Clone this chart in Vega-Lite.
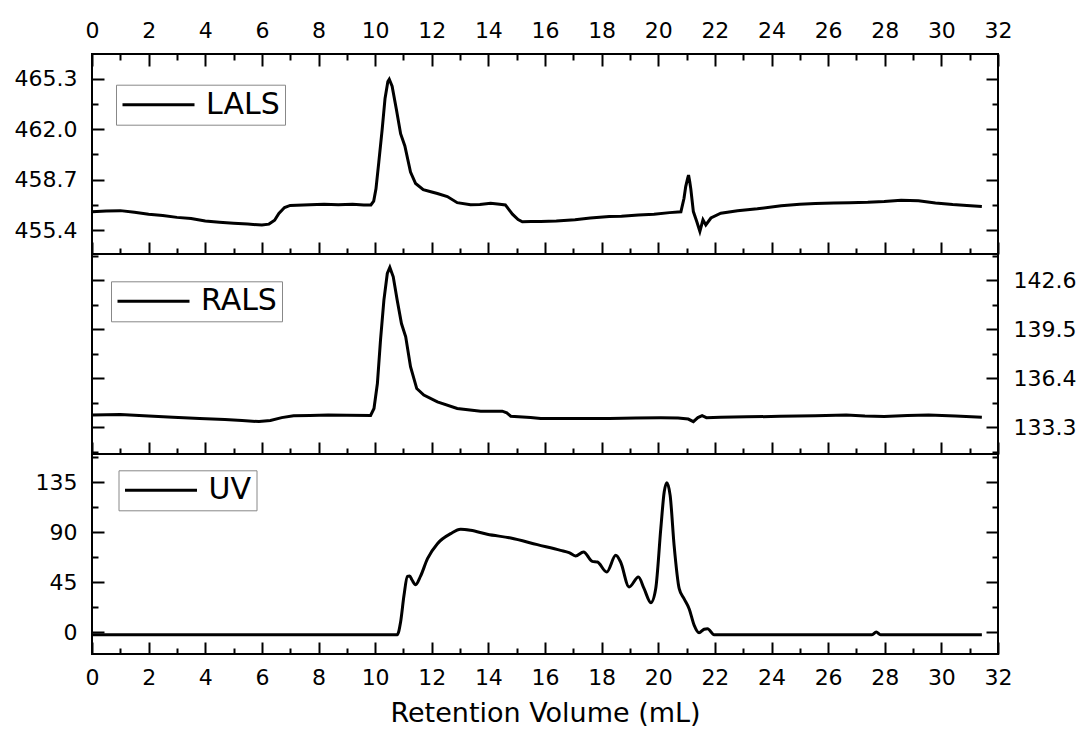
{
  "$schema": "https://vega.github.io/schema/vega-lite/v6.json",
  "padding": {"top": 18, "left": 13, "right": 0, "bottom": 0},
  "background": "white",
  "config": {
    "font": "DejaVu Sans",
    "view": {"stroke": "black", "strokeWidth": 2},
    "axis": {"domain": false, "grid": false, "tickColor": "black", "tickWidth": 2, "labelColor": "black", "labelFont": "DejaVu Sans", "labelFontSize": 22, "labelFlush": false, "labelOverlap": false, "titleColor": "black", "titleFont": "DejaVu Sans", "titleFontWeight": "normal"}
  },
  "datasets": {
    "lals": [
      {"x": 0.0, "v": 456.6}, {"x": 0.5, "v": 456.66}, {"x": 1.0, "v": 456.68}, {"x": 1.5, "v": 456.57}, {"x": 2.0, "v": 456.45},
      {"x": 2.5, "v": 456.36}, {"x": 3.0, "v": 456.24}, {"x": 3.5, "v": 456.17}, {"x": 4.0, "v": 456.0}, {"x": 4.5, "v": 455.92},
      {"x": 5.0, "v": 455.85}, {"x": 5.5, "v": 455.8}, {"x": 6.0, "v": 455.74}, {"x": 6.25, "v": 455.8}, {"x": 6.45, "v": 456.05},
      {"x": 6.6, "v": 456.5}, {"x": 6.8, "v": 456.88}, {"x": 7.0, "v": 457.02}, {"x": 7.7, "v": 457.06}, {"x": 8.2, "v": 457.1},
      {"x": 8.7, "v": 457.07}, {"x": 9.2, "v": 457.1}, {"x": 9.6, "v": 457.04}, {"x": 9.85, "v": 457.05}, {"x": 9.95, "v": 457.3},
      {"x": 10.03, "v": 458.1}, {"x": 10.13, "v": 459.85}, {"x": 10.25, "v": 462.0}, {"x": 10.35, "v": 464.0}, {"x": 10.45, "v": 465.1},
      {"x": 10.5, "v": 465.25}, {"x": 10.6, "v": 464.8}, {"x": 10.75, "v": 463.3}, {"x": 10.9, "v": 461.7}, {"x": 11.05, "v": 460.9},
      {"x": 11.25, "v": 459.2}, {"x": 11.43, "v": 458.45}, {"x": 11.7, "v": 458.05}, {"x": 12.0, "v": 457.9}, {"x": 12.2, "v": 457.8},
      {"x": 12.55, "v": 457.6}, {"x": 12.9, "v": 457.2}, {"x": 13.37, "v": 457.06}, {"x": 13.7, "v": 457.08}, {"x": 14.08, "v": 457.16},
      {"x": 14.4, "v": 457.1}, {"x": 14.6, "v": 457.05}, {"x": 14.85, "v": 456.45}, {"x": 15.05, "v": 456.1}, {"x": 15.2, "v": 455.95},
      {"x": 15.5, "v": 455.97}, {"x": 15.85, "v": 455.97}, {"x": 16.4, "v": 456.0}, {"x": 17.06, "v": 456.08}, {"x": 17.6, "v": 456.2},
      {"x": 18.27, "v": 456.3}, {"x": 18.7, "v": 456.32}, {"x": 19.3, "v": 456.4}, {"x": 19.85, "v": 456.45}, {"x": 20.4, "v": 456.55},
      {"x": 20.8, "v": 456.6}, {"x": 20.91, "v": 457.49}, {"x": 20.97, "v": 458.25}, {"x": 21.04, "v": 458.8}, {"x": 21.07, "v": 459.0},
      {"x": 21.11, "v": 458.6}, {"x": 21.15, "v": 458.1}, {"x": 21.24, "v": 456.62}, {"x": 21.36, "v": 455.97}, {"x": 21.47, "v": 455.32},
      {"x": 21.58, "v": 456.08}, {"x": 21.68, "v": 455.75}, {"x": 21.86, "v": 456.2}, {"x": 22.21, "v": 456.51}, {"x": 22.8, "v": 456.67},
      {"x": 23.5, "v": 456.8}, {"x": 24.34, "v": 457.0}, {"x": 25.0, "v": 457.1}, {"x": 25.55, "v": 457.14}, {"x": 26.2, "v": 457.17},
      {"x": 26.76, "v": 457.2}, {"x": 27.4, "v": 457.22}, {"x": 27.98, "v": 457.27}, {"x": 28.58, "v": 457.36}, {"x": 29.19, "v": 457.32},
      {"x": 29.79, "v": 457.18}, {"x": 30.4, "v": 457.08}, {"x": 30.9, "v": 457.02}, {"x": 31.43, "v": 456.95}
    ],
    "rals": [
      {"x": 0.0, "v": 134.06}, {"x": 1.0, "v": 134.1}, {"x": 2.0, "v": 134.0}, {"x": 2.86, "v": 133.92}, {"x": 3.8, "v": 133.85},
      {"x": 4.69, "v": 133.78}, {"x": 5.3, "v": 133.72}, {"x": 5.9, "v": 133.65}, {"x": 6.3, "v": 133.72}, {"x": 6.7, "v": 133.9},
      {"x": 7.12, "v": 134.02}, {"x": 7.7, "v": 134.04}, {"x": 8.34, "v": 134.06}, {"x": 9.0, "v": 134.05}, {"x": 9.84, "v": 134.04},
      {"x": 9.96, "v": 134.48}, {"x": 10.08, "v": 136.06}, {"x": 10.19, "v": 138.8}, {"x": 10.31, "v": 141.33}, {"x": 10.43, "v": 143.02},
      {"x": 10.52, "v": 143.4}, {"x": 10.64, "v": 142.81}, {"x": 10.78, "v": 141.33}, {"x": 10.93, "v": 139.85}, {"x": 11.08, "v": 139.01},
      {"x": 11.25, "v": 137.12}, {"x": 11.47, "v": 135.74}, {"x": 11.72, "v": 135.33}, {"x": 12.2, "v": 134.9}, {"x": 12.9, "v": 134.48},
      {"x": 13.73, "v": 134.31}, {"x": 14.49, "v": 134.31}, {"x": 14.65, "v": 134.2}, {"x": 14.79, "v": 133.99}, {"x": 15.49, "v": 133.91},
      {"x": 15.85, "v": 133.85}, {"x": 17.0, "v": 133.85}, {"x": 18.27, "v": 133.85}, {"x": 19.2, "v": 133.88}, {"x": 20.09, "v": 133.89},
      {"x": 20.7, "v": 133.88}, {"x": 21.06, "v": 133.81}, {"x": 21.24, "v": 133.65}, {"x": 21.4, "v": 133.9}, {"x": 21.55, "v": 134.02},
      {"x": 21.7, "v": 133.9}, {"x": 22.2, "v": 133.93}, {"x": 23.12, "v": 133.95}, {"x": 24.3, "v": 133.98}, {"x": 25.55, "v": 134.02},
      {"x": 26.64, "v": 134.06}, {"x": 27.3, "v": 134.0}, {"x": 27.98, "v": 133.97}, {"x": 28.8, "v": 134.03}, {"x": 29.55, "v": 134.06},
      {"x": 30.5, "v": 134.0}, {"x": 31.43, "v": 133.93}
    ],
    "uv": [
      {"x": 0.0, "v": -2.4}, {"x": 10.78, "v": -2.4}, {"x": 10.9, "v": 9}, {"x": 11.02, "v": 33}, {"x": 11.14, "v": 50},
      {"x": 11.22, "v": 50.5}, {"x": 11.3, "v": 47}, {"x": 11.43, "v": 42.6}, {"x": 11.6, "v": 50}, {"x": 11.85, "v": 66},
      {"x": 12.2, "v": 79.5}, {"x": 12.67, "v": 88.5}, {"x": 13.02, "v": 92.4}, {"x": 13.37, "v": 91.5}, {"x": 13.96, "v": 88},
      {"x": 14.79, "v": 84.6}, {"x": 15.73, "v": 78.6}, {"x": 16.55, "v": 73.5}, {"x": 16.85, "v": 71.4}, {"x": 17.08, "v": 68.5},
      {"x": 17.36, "v": 72}, {"x": 17.67, "v": 63.6}, {"x": 17.85, "v": 63}, {"x": 18.18, "v": 54}, {"x": 18.5, "v": 69},
      {"x": 18.67, "v": 63}, {"x": 18.97, "v": 40.5}, {"x": 19.3, "v": 49.5}, {"x": 19.5, "v": 39}, {"x": 19.74, "v": 26.4},
      {"x": 19.91, "v": 39}, {"x": 20.09, "v": 93}, {"x": 20.21, "v": 126}, {"x": 20.3, "v": 134.4}, {"x": 20.42, "v": 123},
      {"x": 20.56, "v": 78}, {"x": 20.74, "v": 39}, {"x": 20.91, "v": 30}, {"x": 21.09, "v": 21}, {"x": 21.27, "v": 6},
      {"x": 21.44, "v": -0.6}, {"x": 21.62, "v": 2.5}, {"x": 21.74, "v": 3}, {"x": 21.97, "v": -2.4}, {"x": 27.55, "v": -2.4},
      {"x": 27.7, "v": 0}, {"x": 27.85, "v": -2.4}, {"x": 31.43, "v": -2.4}
    ]
  },
  "spacing": 0,
  "bounds": "flush",
  "resolve": {"scale": {"x": "independent", "y": "independent", "color": "independent"}, "legend": {"color": "independent"}},
  "vconcat": [
    {
      "width": 906, "height": 200,
      "data": {"name": "lals"},
      "resolve": {"axis": {"x": "independent", "y": "independent"}},
      "layer": [
        {
          "mark": {"type": "line", "strokeWidth": 3},
          "encoding": {
            "x": {"field": "x", "type": "quantitative", "scale": {"domain": [0, 32], "nice": false, "zero": false},
                  "axis": {"orient": "top", "values": [0,2,4,6,8,10,12,14,16,18,20,22,24,26,28,30,32], "tickSize": -12, "labelPadding": 23.4, "title": null}},
            "y": {"field": "v", "type": "quantitative", "scale": {"domain": [453.85, 466.9], "nice": false, "zero": false},
                  "axis": {"orient": "left", "values": [455.4, 458.7, 462.0, 465.3], "format": ".1f", "tickSize": -12, "labelPadding": 27, "title": null}},
            "color": {"datum": "LALS", "scale": {"range": ["black"]},
                      "legend": {"title": null, "orient": "none", "legendX": 24, "legendY": 30.7, "padding": 5, "strokeColor": "#888888", "fillColor": "white", "symbolType": "stroke", "symbolSize": 5184, "symbolStrokeWidth": 3, "clipHeight": 30, "labelFont": "DejaVu Sans", "labelFontSize": 30, "labelColor": "black", "labelOffset": 10}}
          }
        },
        {
          "mark": {"type": "line", "opacity": 0},
          "encoding": {
            "x": {"field": "x", "type": "quantitative", "axis": {"orient": "top", "values": [1,3,5,7,9,11,13,15,17,19,21,23,25,27,29,31], "tickSize": -6, "labels": false, "title": null}},
            "y": {"field": "v", "type": "quantitative", "axis": {"orient": "left", "values": [457.05, 460.35, 463.65], "tickSize": -6, "labels": false, "title": null}}
          }
        },
        {
          "mark": {"type": "line", "opacity": 0},
          "encoding": {
            "x": {"field": "x", "type": "quantitative", "axis": {"orient": "bottom", "values": [0,2,4,6,8,10,12,14,16,18,20,22,24,26,28,30,32], "tickSize": -12, "labels": false, "title": null}},
            "y": {"field": "v", "type": "quantitative", "axis": {"orient": "right", "values": [455.4, 458.7, 462.0, 465.3], "tickSize": -12, "labels": false, "title": null}}
          }
        },
        {
          "mark": {"type": "line", "opacity": 0},
          "encoding": {
            "x": {"field": "x", "type": "quantitative", "axis": {"orient": "bottom", "values": [1,3,5,7,9,11,13,15,17,19,21,23,25,27,29,31], "tickSize": -6, "labels": false, "title": null}},
            "y": {"field": "v", "type": "quantitative", "axis": {"orient": "right", "values": [457.05, 460.35, 463.65], "tickSize": -6, "labels": false, "title": null}}
          }
        }
      ]
    },
    {
      "width": 906, "height": 200,
      "data": {"name": "rals"},
      "resolve": {"axis": {"x": "independent", "y": "independent"}},
      "layer": [
        {
          "mark": {"type": "line", "strokeWidth": 3},
          "encoding": {
            "x": {"field": "x", "type": "quantitative", "scale": {"domain": [0, 32], "nice": false, "zero": false},
                  "axis": {"orient": "bottom", "values": [0,2,4,6,8,10,12,14,16,18,20,22,24,26,28,30,32], "tickSize": -12, "labels": false, "title": null}},
            "y": {"field": "v", "type": "quantitative", "scale": {"domain": [131.6, 144.25], "nice": false, "zero": false},
                  "axis": {"orient": "left", "values": [133.3, 136.4, 139.5, 142.6], "tickSize": -12, "labels": false, "title": null}},
            "color": {"datum": "RALS", "scale": {"range": ["black"]},
                      "legend": {"title": null, "orient": "none", "legendX": 19, "legendY": 27.3, "padding": 5, "strokeColor": "#888888", "fillColor": "white", "symbolType": "stroke", "symbolSize": 5184, "symbolStrokeWidth": 3, "clipHeight": 30, "labelFont": "DejaVu Sans", "labelFontSize": 30, "labelColor": "black", "labelOffset": 10}}
          }
        },
        {
          "mark": {"type": "line", "opacity": 0},
          "encoding": {
            "x": {"field": "x", "type": "quantitative", "axis": {"orient": "bottom", "values": [1,3,5,7,9,11,13,15,17,19,21,23,25,27,29,31], "tickSize": -6, "labels": false, "title": null}},
            "y": {"field": "v", "type": "quantitative", "axis": {"orient": "left", "values": [131.75, 134.85, 137.95, 141.05, 144.15], "tickSize": -6, "labels": false, "title": null}}
          }
        },
        {
          "mark": {"type": "line", "opacity": 0},
          "encoding": {
            "x": {"field": "x", "type": "quantitative", "axis": null},
            "y": {"field": "v", "type": "quantitative", "axis": {"orient": "right", "values": [133.3, 136.4, 139.5, 142.6], "format": ".1f", "tickSize": -12, "labelPadding": 27, "title": null}}
          }
        },
        {
          "mark": {"type": "line", "opacity": 0},
          "encoding": {
            "x": {"field": "x", "type": "quantitative", "axis": null},
            "y": {"field": "v", "type": "quantitative", "axis": {"orient": "right", "values": [131.75, 134.85, 137.95, 141.05, 144.15], "tickSize": -6, "labels": false, "title": null}}
          }
        }
      ]
    },
    {
      "width": 906, "height": 200,
      "data": {"name": "uv"},
      "resolve": {"axis": {"x": "independent", "y": "independent"}},
      "layer": [
        {
          "mark": {"type": "line", "strokeWidth": 3, "interpolate": "monotone"},
          "encoding": {
            "x": {"field": "x", "type": "quantitative", "scale": {"domain": [0, 32], "nice": false, "zero": false},
                  "axis": {"orient": "bottom", "values": [0,2,4,6,8,10,12,14,16,18,20,22,24,26,28,30,32], "tickSize": -12, "labelPadding": 25.9, "title": "Retention Volume (mL)", "titleFontSize": 27, "titlePadding": 12}},
            "y": {"field": "v", "type": "quantitative", "scale": {"domain": [-19.8, 160.2], "nice": false, "zero": false},
                  "axis": {"orient": "left", "values": [0, 45, 90, 135], "tickSize": -12, "labelPadding": 27, "title": null}},
            "color": {"datum": "UV", "scale": {"range": ["black"]},
                      "legend": {"title": null, "orient": "none", "legendX": 26.5, "legendY": 16.3, "padding": 5, "strokeColor": "#888888", "fillColor": "white", "symbolType": "stroke", "symbolSize": 5184, "symbolStrokeWidth": 3, "clipHeight": 30, "labelFont": "DejaVu Sans", "labelFontSize": 30, "labelColor": "black", "labelOffset": 10}}
          }
        },
        {
          "mark": {"type": "line", "opacity": 0, "interpolate": "monotone"},
          "encoding": {
            "x": {"field": "x", "type": "quantitative", "axis": {"orient": "bottom", "values": [1,3,5,7,9,11,13,15,17,19,21,23,25,27,29,31], "tickSize": -6, "labels": false, "title": null}},
            "y": {"field": "v", "type": "quantitative", "axis": {"orient": "left", "values": [22.5, 67.5, 112.5, 157.5], "tickSize": -6, "labels": false, "title": null}}
          }
        },
        {
          "mark": {"type": "line", "opacity": 0, "interpolate": "monotone"},
          "encoding": {
            "x": {"field": "x", "type": "quantitative", "axis": null},
            "y": {"field": "v", "type": "quantitative", "axis": {"orient": "right", "values": [0, 45, 90, 135], "tickSize": -12, "labels": false, "title": null}}
          }
        },
        {
          "mark": {"type": "line", "opacity": 0, "interpolate": "monotone"},
          "encoding": {
            "x": {"field": "x", "type": "quantitative", "axis": null},
            "y": {"field": "v", "type": "quantitative", "axis": {"orient": "right", "values": [22.5, 67.5, 112.5, 157.5], "tickSize": -6, "labels": false, "title": null}}
          }
        }
      ]
    }
  ]
}
